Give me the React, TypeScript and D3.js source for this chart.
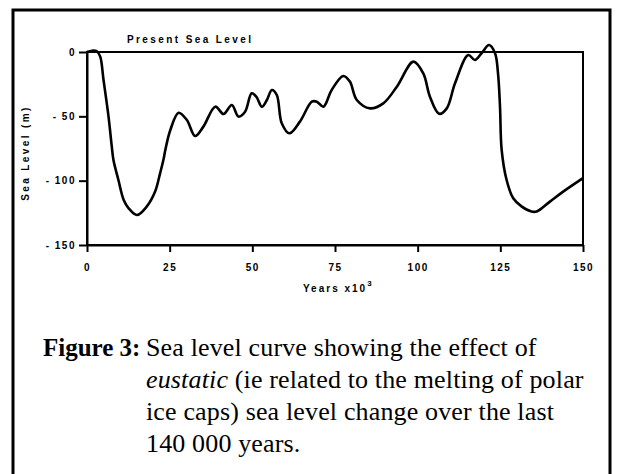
import React, { useEffect, useRef } from 'react';
import * as d3 from 'd3';

// years before present (x10^3) and sea level (m)
const years = [0, 1.5, 3, 4, 5, 6.5, 7.5, 8, 9.5, 11.1, 12.6, 15.1, 18.1, 20.6, 22.1, 23.1, 23.7, 25.2, 27.7, 30.2, 32.7, 35.2, 38.8, 41.3, 43.8, 45.8, 47.8, 49.8, 51.2, 52.9, 54.4, 55.9, 57.4, 58.9, 61.2, 64.4, 68, 69.5, 71.5, 74, 77.5, 79.5, 81.6, 85.6, 89.6, 93.7, 98.7, 101.7, 103.7, 106.5, 108.8, 111.3, 115.3, 117.3, 119.3, 121.6, 123.4, 124.3, 124.9, 125.4, 126.9, 128.9, 131.4, 134.4, 136, 140, 144, 150];
const seaLevel = [0, 1, 0.5, -3.6, -21.8, -50, -73.6, -84, -99.5, -115, -121.5, -126.7, -120, -108.5, -94.3, -84, -76, -60.6, -47.2, -52.8, -65.3, -58, -42.5, -48.2, -41.2, -50.2, -46.4, -32.1, -34.7, -42.5, -37.3, -29.5, -33.4, -55.4, -63.2, -54.1, -38.6, -38.6, -42.5, -29.5, -18.6, -23, -37.3, -43.8, -39.9, -27, -7.5, -16.6, -34.7, -48, -43.8, -24.3, -2.3, -6.2, -1, 5.4, -1, -16.6, -42.5, -76, -99.5, -113.7, -120, -124, -124, -116.3, -108.5, -98];

const xTicks = [0, 25, 50, 75, 100, 125, 150];
const yTicks = [0, -50, -100, -150];

const captionLead = 'Figure 3:';
const captionLines = [
    ['', 'Sea level curve showing the effect of'],
    ['eustatic', ' (ie related to the melting of polar'],
    ['', 'ice caps) sea level change over the last'],
    ['', '140 000 years.'],
];

const App = () => {
    const svgRef = useRef(null);

    useEffect(() => {
        const svg = d3.select(svgRef.current);
        svg.selectAll('*').remove();

        const axisFont = '"Liberation Sans", Arial, sans-serif';
        const serif = '"Liberation Serif", "Times New Roman", serif';

        // outer box of the figure
        svg.append('path')
            .attr('d', 'M13,474 L13,10 L610,10 L610,474')
            .attr('fill', 'none')
            .attr('stroke', '#000')
            .attr('stroke-width', 3);

        const left = 87, right = 583, top = 52, bottom = 245;

        const x = d3.scaleLinear().domain([0, 150]).range([left, right]);
        const y = d3.scaleLinear().domain([-150, 0]).range([bottom, top]);

        // plot frame
        svg.append('rect')
            .attr('x', left).attr('y', top)
            .attr('width', right - left).attr('height', bottom - top)
            .attr('fill', 'none').attr('stroke', '#000').attr('stroke-width', 2);

        const yAxis = svg.append('g')
            .attr('transform', `translate(${left},0)`)
            .call(d3.axisLeft(y).tickValues(yTicks).tickSize(8).tickSizeOuter(0).tickPadding(5)
                .tickFormat(d => (+d < 0 ? `- ${-d}` : `${d}`)));

        const xAxis = svg.append('g')
            .attr('transform', `translate(0,${bottom})`)
            .call(d3.axisBottom(x).tickValues(xTicks).tickSize(7).tickSizeOuter(0).tickPadding(12));

        [yAxis, xAxis].forEach(a => {
            a.select('.domain').attr('stroke-width', 2);
            a.selectAll('.tick line').attr('stroke-width', 2);
            a.selectAll('.tick text')
                .attr('font-family', axisFont)
                .attr('font-size', 10)
                .attr('font-weight', 'bold')
                .attr('letter-spacing', 1.5);
        });
        yAxis.selectAll('.tick text').attr('x', -11);

        svg.append('text')
            .attr('x', 127).attr('y', 43)
            .attr('font-family', axisFont).attr('font-size', 10).attr('font-weight', 'bold')
            .attr('letter-spacing', 2.4)
            .text('Present Sea Level');

        const xl = svg.append('text')
            .attr('x', 303).attr('y', 292)
            .attr('font-family', axisFont).attr('font-size', 10).attr('font-weight', 'bold')
            .attr('letter-spacing', 2);
        xl.append('tspan').text('Years  x10');
        xl.append('tspan').attr('dy', -6).attr('font-size', 8).text('3');

        svg.append('text')
            .attr('transform', 'translate(29,153) rotate(-90)')
            .attr('text-anchor', 'middle')
            .attr('font-family', axisFont).attr('font-size', 10).attr('font-weight', 'bold')
            .attr('letter-spacing', 2.4)
            .text('Sea Level (m)');

        // the curve
        const line = d3.line()
            .x((_, i) => x(years[i]))
            .y(d => y(d))
            .curve(d3.curveCatmullRom.alpha(0.5));

        svg.append('path')
            .datum(seaLevel)
            .attr('fill', 'none')
            .attr('stroke', '#000')
            .attr('stroke-width', 2.6)
            .attr('stroke-linejoin', 'round')
            .attr('d', line);

        // caption
        svg.append('text')
            .attr('x', 43).attr('y', 356)
            .attr('font-family', serif).attr('font-size', 25).attr('font-weight', 'bold')
            .text(captionLead);

        captionLines.forEach(([it, rest], i) => {
            const t = svg.append('text')
                .attr('x', 146).attr('y', 356 + i * 32)
                .attr('font-family', serif).attr('font-size', 26)
                .attr('letter-spacing', 0.15);
            if (it) t.append('tspan').attr('font-style', 'italic').text(it);
            t.append('tspan').text(rest);
        });
    }, []);

    return (
        <svg ref={svgRef} width={617} height={474}
             style={{ position: 'absolute', left: 0, top: 0, background: '#fff' }} />
    );
};

export default App;
